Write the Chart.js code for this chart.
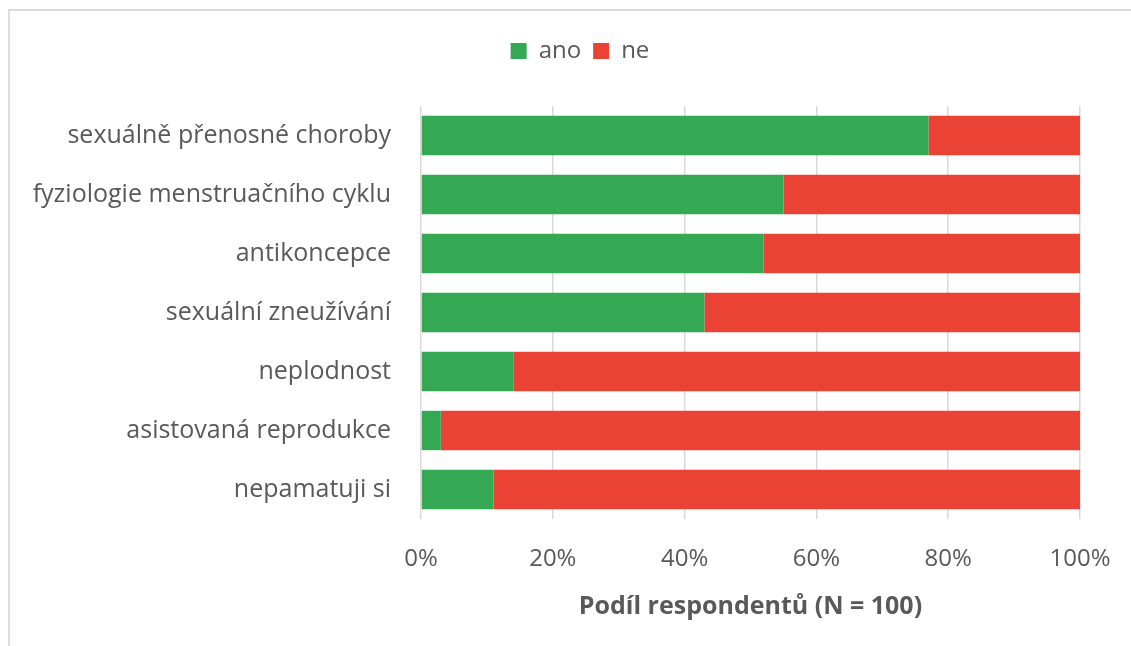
<!DOCTYPE html>
<html>
<head>
<meta charset="utf-8">
<script src="https://cdn.jsdelivr.net/npm/chart.js@4"></script>
<style>
  body { margin: 0; background: #fff; }
  #frame { position: absolute; left: 8px; top: 9px; width: 1200px; height: 700px; border: 2px solid #dcdcdc; }
  #myChart { position: absolute; left: 0; top: 0; }
</style>
</head>
<body>
<div id="frame"></div>
<canvas id="myChart" width="1131" height="646"></canvas>
<script>
var labels = ['sexuálně přenosné choroby', 'fyziologie menstruačního cyklu', 'antikoncepce',
    'sexuální zneužívání', 'neplodnost', 'asistovaná reprodukce', 'nepamatuji si'];
var ano = [77, 55, 52, 43, 14, 3, 11];
var ne = [23, 45, 48, 57, 86, 97, 89];
var xTicks = [0, 20, 40, 60, 80, 100];

var textColor = '#595959';
var fontName = "'Open Sans', sans-serif";
var padLeft = 20;

// extra room under the legend, and legend nudged right
var legendTweak = {
    id: 'legendTweak',
    beforeInit: function (chart) {
        var fit = chart.legend.fit;
        chart.legend.fit = function () {
            fit.bind(chart.legend)();
            this.height += 33;
        };
    },
    afterLayout: function (chart) {
        chart.legend.left += 30;
        chart.legend.right += 30;
    }
};

var ctx = document.getElementById('myChart').getContext('2d');
var myChart = new Chart(ctx, {
    type: 'bar',
    data: {
        labels: labels,
        datasets: [{
            label: 'ano',
            data: ano,
            backgroundColor: '#34a853'
        }, {
            label: 'ne',
            data: ne,
            backgroundColor: '#ea4335'
        }]
    },
    options: {
        responsive: false,
        animation: false,
        indexAxis: 'y',
        layout: { padding: { left: padLeft, right: 51, top: 27, bottom: 20 } },
        datasets: { bar: { barPercentage: 0.667, categoryPercentage: 1 } },
        plugins: {
            legend: {
                position: 'top',
                labels: {
                    boxWidth: 16, boxHeight: 16, padding: 12,
                    color: textColor,
                    font: { family: fontName, size: 24 }
                }
            },
            tooltip: { enabled: false }
        },
        scales: {
            x: {
                stacked: true,
                min: 0, max: 100,
                afterBuildTicks: function (axis) {
                    axis.ticks = xTicks.map(function (v) { return { value: v }; });
                },
                ticks: {
                    color: textColor,
                    padding: 26,
                    font: { family: fontName, size: 24 },
                    callback: function (v) { return v + '%'; }
                },
                grid: { color: '#d9d9d9', lineWidth: 1.5, drawTicks: false },
                border: { display: false },
                title: {
                    display: true,
                    text: 'Podíl respondentů (N = 100)',
                    color: textColor,
                    font: { family: fontName, size: 25, weight: 'bold' },
                    padding: { top: 4 }
                },
                afterFit: function (axis) {
                    axis.height = 646 - 20 - 519;
                    axis.paddingRight = 0;
                }
            },
            y: {
                stacked: true,
                ticks: {
                    color: textColor,
                    padding: 22,
                    font: { family: fontName, size: 25 }
                },
                grid: { display: false },
                border: { display: false },
                afterFit: function (axis) { axis.width = 421 - padLeft; }
            }
        }
    },
    plugins: [legendTweak]
});
</script>
</body>
</html>
